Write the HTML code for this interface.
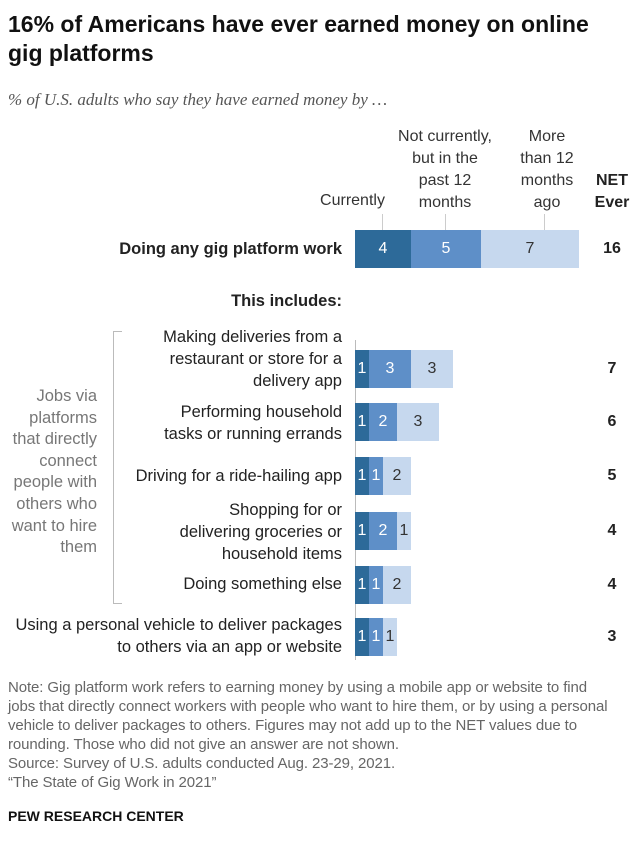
<!DOCTYPE html>
<html><head><meta charset="utf-8"><style>
body{margin:0;width:640px;height:856px;background:#fff;font-family:"Liberation Sans",sans-serif;position:relative;overflow:hidden;color:#222}
.a{position:absolute}
.t{font-size:16.5px;line-height:22px;text-align:right;color:#222;white-space:nowrap}
.h{font-size:16px;line-height:22px;text-align:center;color:#333;white-space:nowrap}
.b{position:absolute;height:38px;color:#fff;font-size:16px;line-height:38px;text-align:center}
.d{background:#2d6a99}.m{background:#5e8fc8}.l{background:#c6d8ee;color:#333}
.n{position:absolute;left:592px;width:40px;text-align:center;font-weight:bold;font-size:16px}
</style></head><body>
<div class="a" style="left:8px;top:10px;width:620px;font-size:23px;font-weight:bold;line-height:29px;color:#111">16% of Americans have ever earned money on online gig platforms</div>
<div class="a" style="left:8px;top:90px;font-family:'Liberation Serif',serif;font-style:italic;font-size:17px;color:#555">% of U.S. adults who say they have earned money by …</div>

<div class="a h" style="left:305px;top:190px;width:95px">Currently</div>
<div class="a h" style="left:390px;top:126px;width:110px">Not currently,<br>but in the<br>past 12<br>months</div>
<div class="a h" style="left:507px;top:126px;width:80px">More<br>than 12<br>months<br>ago</div>
<div class="a h" style="left:590px;top:170px;width:44px;font-weight:bold;color:#222">NET<br>Ever</div>
<div class="a" style="left:382px;top:214px;width:1px;height:16px;background:#ccc"></div>
<div class="a" style="left:445px;top:214px;width:1px;height:16px;background:#ccc"></div>
<div class="a" style="left:544px;top:214px;width:1px;height:16px;background:#ccc"></div>

<div class="a t" style="left:20px;top:238px;width:322px;font-weight:bold">Doing any gig platform work</div>
<div class="b d" style="left:355px;top:230px;width:56px">4</div>
<div class="b m" style="left:411px;top:230px;width:70px">5</div>
<div class="b l" style="left:481px;top:230px;width:98px">7</div>
<div class="n" style="top:240px">16</div>

<div class="a t" style="left:20px;top:290px;width:322px;font-weight:bold">This includes:</div>

<div class="a" style="left:113px;top:331px;width:8px;height:271px;border:1px solid #bbb;border-right:none"></div>
<div class="a" style="left:355px;top:340px;width:1px;height:320px;background:#bbb"></div>
<div class="a t" style="left:0px;top:386px;width:97px;color:#777;line-height:21.6px">Jobs via<br>platforms<br>that directly<br>connect<br>people with<br>others who<br>want to hire<br>them</div>

<div class="a t" style="left:120px;top:326px;width:222px">Making deliveries from a<br>restaurant or store for a<br>delivery app</div>
<div class="b d" style="left:355px;top:350px;width:14px">1</div><div class="b m" style="left:369px;top:350px;width:42px">3</div><div class="b l" style="left:411px;top:350px;width:42px">3</div>
<div class="n" style="top:360px">7</div>

<div class="a t" style="left:120px;top:401px;width:222px">Performing household<br>tasks or running errands</div>
<div class="b d" style="left:355px;top:403px;width:14px">1</div><div class="b m" style="left:369px;top:403px;width:28px">2</div><div class="b l" style="left:397px;top:403px;width:42px">3</div>
<div class="n" style="top:413px">6</div>

<div class="a t" style="left:120px;top:465px;width:222px">Driving for a ride-hailing app</div>
<div class="b d" style="left:355px;top:457px;width:14px">1</div><div class="b m" style="left:369px;top:457px;width:14px">1</div><div class="b l" style="left:383px;top:457px;width:28px">2</div>
<div class="n" style="top:467px">5</div>

<div class="a t" style="left:120px;top:499px;width:222px">Shopping for or<br>delivering groceries or<br>household items</div>
<div class="b d" style="left:355px;top:512px;width:14px">1</div><div class="b m" style="left:369px;top:512px;width:28px">2</div><div class="b l" style="left:397px;top:512px;width:14px">1</div>
<div class="n" style="top:522px">4</div>

<div class="a t" style="left:120px;top:573px;width:222px">Doing something else</div>
<div class="b d" style="left:355px;top:566px;width:14px">1</div><div class="b m" style="left:369px;top:566px;width:14px">1</div><div class="b l" style="left:383px;top:566px;width:28px">2</div>
<div class="n" style="top:576px">4</div>

<div class="a t" style="left:0px;top:614px;width:342px">Using a personal vehicle to deliver packages<br>to others via an app or website</div>
<div class="b d" style="left:355px;top:618px;width:14px">1</div><div class="b m" style="left:369px;top:618px;width:14px">1</div><div class="b l" style="left:383px;top:618px;width:14px">1</div>
<div class="n" style="top:628px">3</div>

<div class="a" style="left:8px;top:678px;width:630px;font-size:15px;line-height:19px;color:#666;white-space:nowrap;letter-spacing:-0.1px">Note: Gig platform work refers to earning money by using a mobile app or website to find<br>jobs that directly connect workers with people who want to hire them, or by using a personal<br>vehicle to deliver packages to others. Figures may not add up to the NET values due to<br>rounding. Those who did not give an answer are not shown.<br>Source: Survey of U.S. adults conducted Aug. 23-29, 2021.<br>“The State of Gig Work in 2021”</div>
<div class="a" style="left:8px;top:808px;font-size:14px;font-weight:bold;color:#111">PEW RESEARCH CENTER</div>
</body></html>
